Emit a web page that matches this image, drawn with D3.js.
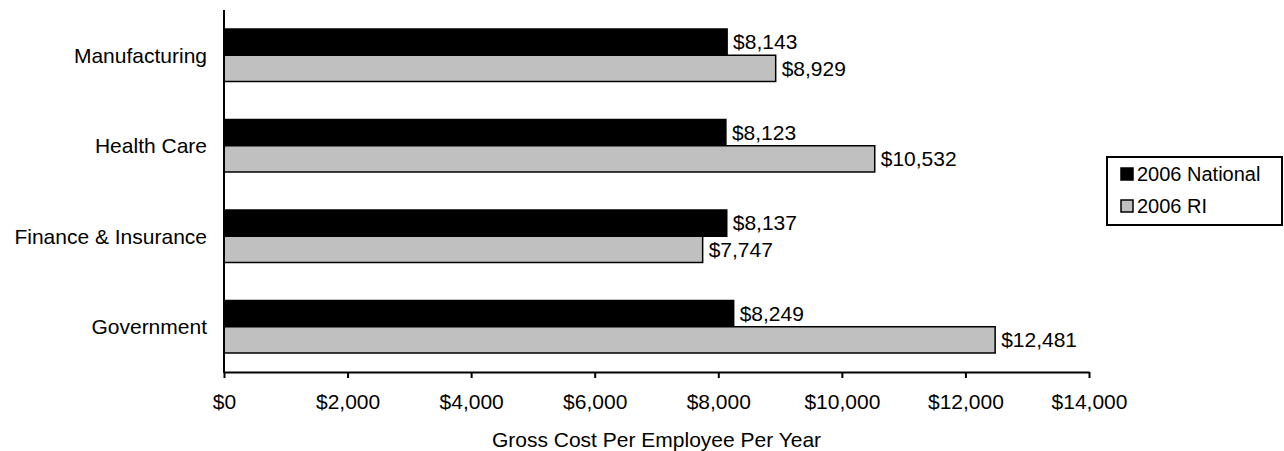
<!DOCTYPE html>
<html><head><meta charset="utf-8">
<script src="https://cdn.jsdelivr.net/npm/d3@7/dist/d3.min.js"></script>
<style>body{margin:0;background:#fff}svg{display:block}text{font-family:"Liberation Sans",Arial,sans-serif;fill:#000}</style>
</head><body><svg id="c" width="1284" height="451"></svg>
<script>
const categories = ["Manufacturing", "Health Care", "Finance & Insurance", "Government"];
const seriesNames = ["2006 National", "2006 RI"];
const national = [8143, 8123, 8137, 8249];
const ri = [8929, 10532, 7747, 12481];
const xTicks = [0, 2000, 4000, 6000, 8000, 10000, 12000, 14000];
const colors = ["#000000", "#c0c0c0"];

const svg = d3.select("#c");
const fs = 21;
const x = d3.scaleLinear().domain([0, 14000]).range([224, 1089]);
const y = d3.scaleBand().domain(categories).range([10, 372]).paddingInner(0.42).paddingOuter(0.21);
const sub = d3.scaleBand().domain([0, 1]).range([0, y.bandwidth()]);
const fmt = v => "$" + d3.format(",")(v);
const series = [national, ri];

const g = svg.append("g");
series.forEach((vals, s) => {
  categories.forEach((c, i) => {
    const y0 = y(c) + sub(s);
    g.append("rect").attr("x", x(0)).attr("y", y0).attr("width", x(vals[i]) - x(0)).attr("height", sub.bandwidth())
      .attr("fill", colors[s]).attr("stroke", "#000").attr("stroke-width", 1.5);
    g.append("text").attr("x", x(vals[i]) + 6).attr("y", y0 + sub.bandwidth() / 2).attr("dy", "0.35em")
      .attr("font-size", fs).text(fmt(vals[i]));
  });
});

// category labels
categories.forEach(c => {
  svg.append("text").attr("x", 207).attr("y", y(c) + y.bandwidth() / 2).attr("dy", "0.35em")
    .attr("text-anchor", "end").attr("font-size", fs).text(c);
});

// axes
const xa = svg.append("g").attr("transform", "translate(0,372)")
  .call(d3.axisBottom(x).tickValues(xTicks).tickFormat(fmt).tickSize(6).tickSizeOuter(0));
xa.select(".domain").attr("stroke", "#000").attr("stroke-width", 2);
xa.selectAll(".tick line").attr("stroke", "#000").attr("stroke-width", 2);
xa.selectAll(".tick text").attr("font-size", fs).attr("font-family", "Liberation Sans, Arial, sans-serif").attr("y", 30).attr("dy", "0.35em");
svg.append("line").attr("x1", 224).attr("x2", 224).attr("y1", 10).attr("y2", 373).attr("stroke", "#000").attr("stroke-width", 2);

svg.append("text").attr("x", x(7000)).attr("y", 440).attr("dy", "0.35em").attr("text-anchor", "middle")
  .attr("font-size", fs).text("Gross Cost Per Employee Per Year");

// legend
const lg = svg.append("g");
lg.append("rect").attr("x", 1107).attr("y", 157).attr("width", 175).attr("height", 68).attr("fill", "#fff").attr("stroke", "#000").attr("stroke-width", 2);
seriesNames.forEach((n, i) => {
  const cy = 174 + i * 32;
  lg.append("rect").attr("x", 1121).attr("y", cy - 6).attr("width", 12).attr("height", 12).attr("fill", colors[i]).attr("stroke", "#000").attr("stroke-width", 1.5);
  lg.append("text").attr("x", 1137).attr("y", cy).attr("dy", "0.35em").attr("font-size", fs - 1).text(n);
});
</script></body></html>
